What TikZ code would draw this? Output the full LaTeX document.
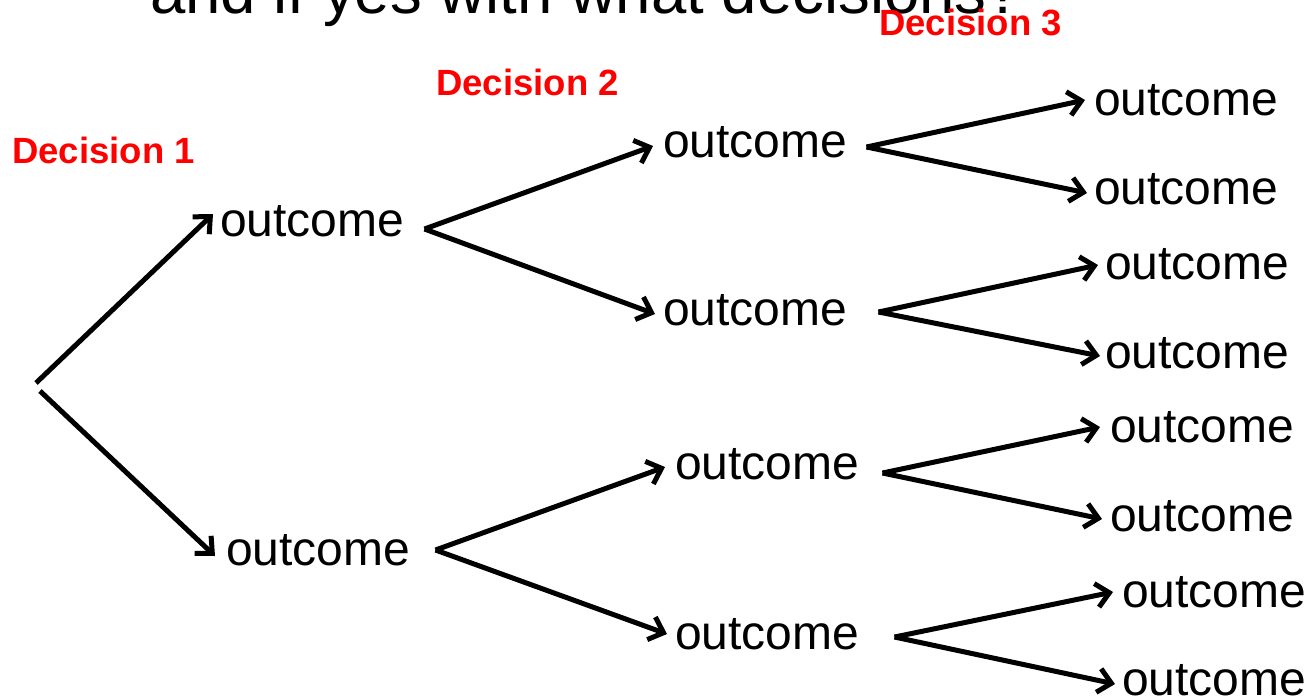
\documentclass[tikz,border=0pt]{standalone}
\usepackage{fontspec}
\setmainfont{Liberation Sans}
\usetikzlibrary{arrows.meta}
\begin{document}
\begin{tikzpicture}[x=1pt,y=-1pt,
  outc/.style={anchor=base west,inner sep=0pt,font=\fontsize{48}{50}\selectfont},
  declabel/.style={anchor=base west,inner sep=0pt,text=red,font=\fontsize{36.5}{40}\selectfont\bfseries},
  branch/.style={line width=5pt,-{Straight Barb[length=13pt,width=24pt,line width=5pt]}}]
\useasboundingbox (0,0) rectangle (1305,697);
\begin{scope}
\clip (0,0) rectangle (1305,697);
\node[anchor=base west,inner sep=0pt,font=\fontsize{63.5}{66}\selectfont] (title) at (150,13) {and if yes with what decisions?};
\end{scope}

% decision labels
\node[declabel] (d1) at (12,163) {Decision 1};
\node[declabel] (d2) at (436,95) {Decision 2};
\node[declabel] (d3) at (879,35) {Decision 3};

% first level
\node[outc] (a1) at (220,236) {outcome};
\node[outc] (a2) at (226,565) {outcome};
% second level
\node[outc] (b1) at (663,157) {outcome};
\node[outc] (b2) at (663,325) {outcome};
\node[outc] (b3) at (675,479) {outcome};
\node[outc] (b4) at (675,649) {outcome};
% third level
\node[outc] (c1) at (1094,115) {outcome};
\node[outc] (c2) at (1094,204) {outcome};
\node[outc] (c3) at (1105,279) {outcome};
\node[outc] (c4) at (1105,368) {outcome};
\node[outc] (c5) at (1110,442) {outcome};
\node[outc] (c6) at (1110,531) {outcome};
\node[outc] (c7) at (1122,607) {outcome};
\node[outc] (c8) at (1122,695) {outcome};

% root of the tree
\coordinate (r1) at (36,383);
\coordinate (r2) at (40,391);
\draw[branch] (r1) -- ([xshift=-7pt,yshift=22pt]a1.base west);
\draw[branch] (r2) -- ([xshift=-11pt,yshift=9pt]a2.base west);

% branching points to the right of each outcome
\foreach \n/\dx/\dy in {a1/20/7, a2/25/15, b1/19/10, b2/31/13, b3/23/6, b4/35/12} {
  \coordinate (\n o) at ([xshift=\dx pt,yshift=\dy pt]\n.base east);
}

% second level branches
\draw[branch] (a1o) -- ([xshift=-10pt,yshift=11pt]b1.base west);
\draw[branch] (a1o) -- ([xshift=-8pt,yshift=11pt]b2.base west);
\draw[branch] (a2o) -- ([xshift=-10pt,yshift=12pt]b3.base west);
\draw[branch] (a2o) -- ([xshift=-8pt,yshift=15pt]b4.base west);

% third level branches
\draw[branch] (b1o) -- ([xshift=-9pt,yshift=15pt]c1.base west);
\draw[branch] (b1o) -- ([xshift=-7pt,yshift=11pt]c2.base west);
\draw[branch] (b2o) -- ([xshift=-7pt,yshift=14pt]c3.base west);
\draw[branch] (b2o) -- ([xshift=-5pt,yshift=12pt]c4.base west);
\draw[branch] (b3o) -- ([xshift=-10pt,yshift=15pt]c5.base west);
\draw[branch] (b3o) -- ([xshift=-8pt,yshift=12pt]c6.base west);
\draw[branch] (b4o) -- ([xshift=-9pt,yshift=15pt]c7.base west);
\draw[branch] (b4o) -- ([xshift=-7pt,yshift=11pt]c8.base west);
\end{tikzpicture}
\end{document}
